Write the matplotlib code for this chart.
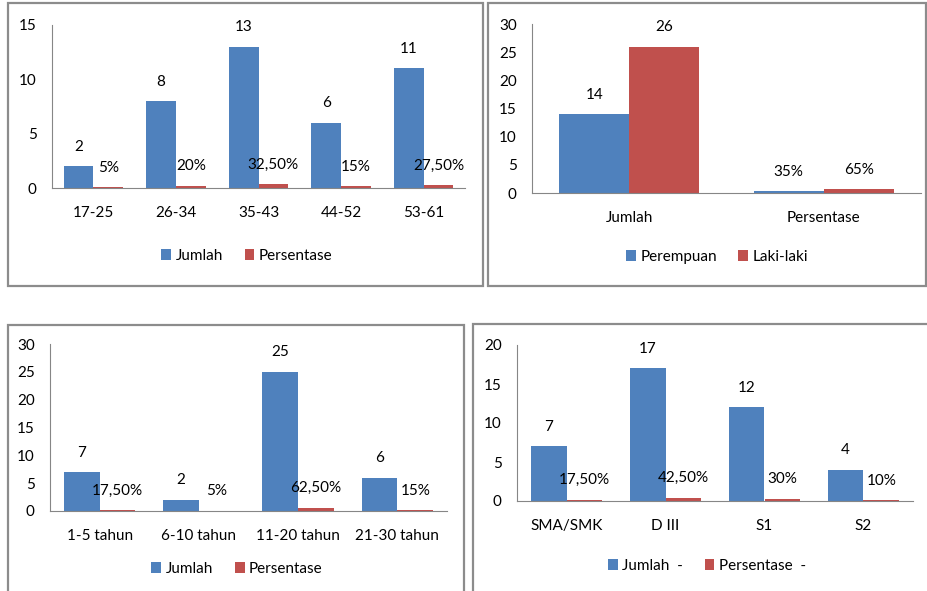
import matplotlib
matplotlib.use('Agg')
import matplotlib.pyplot as plt
from matplotlib.patches import Rectangle

plt.rcParams['font.family'] = ['Lato', 'DejaVu Sans']
plt.rcParams['font.size'] = 11

# Data
usia = ['17-25', '26-34', '35-43', '44-52', '53-61']
usia_jumlah = [2, 8, 13, 6, 11]
usia_persen = [0.05, 0.20, 0.325, 0.15, 0.275]

jk_kategori = ['Jumlah', 'Persentase']
jk_perempuan = [14, 0.35]
jk_laki = [26, 0.65]

masa_kerja = ['1-5 tahun', '6-10 tahun', '11-20 tahun', '21-30 tahun']
masa_jumlah = [7, 2, 25, 6]
masa_persen = [0.175, 0.05, 0.625, 0.15]

pendidikan = ['SMA/SMK', 'D III', 'S1', 'S2']
pend_jumlah = [7, 17, 12, 4]
pend_persen = [0.175, 0.425, 0.30, 0.10]

BIRU = '#4F81BD'
MERAH = '#C0504D'
ABU = '#868686'
W, H = 927, 591


def fmt(v):
    # angka biasa atau persen dengan koma desimal
    if v >= 1:
        return f"{v:g}"
    p = round(v * 100, 2)
    if p == int(p):
        return f"{int(p)}%"
    return f"{p:.2f}".replace('.', ',') + '%'


def buat_axes(fig, kiri, atas, kanan, bawah):
    return fig.add_axes([kiri / W, 1 - bawah / H, (kanan - kiri) / W, (bawah - atas) / H])


def grafik(fig, box, kategori, s1, s2, nama1, nama2, ymax, legend_xy):
    ax = buat_axes(fig, *box)
    w = 0.36
    x = list(range(len(kategori)))
    b1 = ax.bar([i - w / 2 for i in x], s1, w, color=BIRU, label=nama1)
    b2 = ax.bar([i + w / 2 for i in x], s2, w, color=MERAH, label=nama2)
    for bars, vals in ((b1, s1), (b2, s2)):
        for b, v in zip(bars, vals):
            ax.annotate(fmt(v), (b.get_x() + b.get_width() / 2, b.get_height()),
                        xytext=(0, 14), textcoords='offset points',
                        ha='center', va='center', fontsize=11)
    ax.set_xlim(-0.5, len(kategori) - 0.5)
    ax.set_ylim(0, ymax)
    ax.set_yticks(range(0, ymax + 1, 5))
    ax.set_xticks(x)
    ax.set_xticklabels(kategori)
    ax.tick_params(axis='y', length=0, pad=11)
    ax.tick_params(axis='x', length=0, pad=13)
    for s in ['top', 'right']:
        ax.spines[s].set_visible(False)
    for s in ['left', 'bottom']:
        ax.spines[s].set_color(ABU)
    ax.patch.set_alpha(0)
    fig.legend(handles=[b1, b2], loc='center',
               bbox_to_anchor=(legend_xy[0] / W, 1 - legend_xy[1] / H),
               ncol=2, frameon=False, handlelength=0.65, handleheight=0.75,
               handletextpad=0.3, columnspacing=1.4, fontsize=11)
    return ax


fig = plt.figure(figsize=(W / 100, H / 100), dpi=100)

# bingkai tiap panel
for (x0, y0, x1, y1) in [(8, 3, 483, 286), (488, 3, 926, 286),
                         (8, 325, 464, 600), (473, 324, 935, 600)]:
    fig.add_artist(Rectangle((x0 / W, 1 - y1 / H), (x1 - x0) / W, (y1 - y0) / H,
                             transform=fig.transFigure, fill=False,
                             edgecolor='#8C8C8C', linewidth=1.6))

grafik(fig, (52, 25, 465, 188), usia, usia_jumlah, usia_persen,
       'Jumlah', 'Persentase', 15, (247, 256))
grafik(fig, (532, 24, 921, 193), jk_kategori, jk_perempuan, jk_laki,
       'Perempuan', 'Laki-laki', 30, (717, 257))
grafik(fig, (50, 344, 447, 511), masa_kerja, masa_jumlah, masa_persen,
       'Jumlah', 'Persentase', 30, (237, 569))
grafik(fig, (517, 345, 913, 501), pendidikan, pend_jumlah, pend_persen,
       'Jumlah  -', 'Persentase  -', 20, (707, 566))

fig.savefig('out.png', dpi=100)
